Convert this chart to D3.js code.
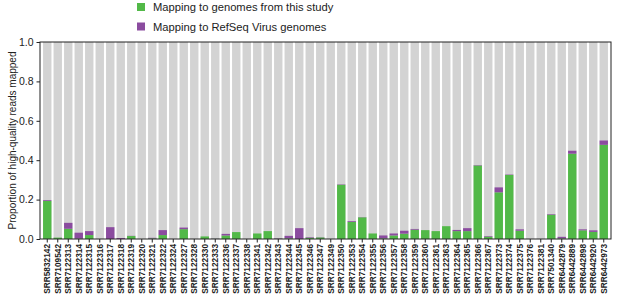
<!DOCTYPE html>
<html><head><meta charset="utf-8">
<script src="https://cdn.jsdelivr.net/npm/d3@7"></script>
<style>body{margin:0;background:#fff;}svg{display:block;font-family:"Liberation Sans",Arial,sans-serif;}</style>
</head><body><div id="chart"></div>
<script>
const categories = ["SRR5832142","SRR7109542","SRR7122313","SRR7122314","SRR7122315","SRR7122316","SRR7122317","SRR7122318","SRR7122319","SRR7122320","SRR7122321","SRR7122322","SRR7122324","SRR7122327","SRR7122328","SRR7122330","SRR7122333","SRR7122336","SRR7122337","SRR7122338","SRR7122341","SRR7122342","SRR7122343","SRR7122344","SRR7122345","SRR7122346","SRR7122347","SRR7122349","SRR7122350","SRR7122353","SRR7122354","SRR7122355","SRR7122356","SRR7122357","SRR7122358","SRR7122359","SRR7122360","SRR7122361","SRR7122363","SRR7122364","SRR7122365","SRR7122366","SRR7122367","SRR7122373","SRR7122374","SRR7122375","SRR7122376","SRR7122381","SRR7501340","SRR6442879","SRR6442889","SRR6442898","SRR6442920","SRR6442973"];
const studyValues = [0.193,0.007,0.052,0.002,0.02,0,0,0,0.015,0,0.003,0.02,0,0.05,0,0.013,0.001,0.018,0.035,0,0.028,0.04,0.001,0.003,0,0.006,0.008,0,0.275,0.087,0.11,0.028,0.003,0.018,0.027,0.047,0.045,0.04,0.065,0.04,0.04,0.373,0.012,0.237,0.325,0.042,0,0,0.123,0.003,0.433,0.044,0.036,0.478];
const refseqValues = [0.004,0,0.03,0.03,0.02,0,0.06,0.005,0.001,0,0.003,0.025,0,0.008,0,0,0.001,0.008,0,0,0,0,0.002,0.013,0.055,0.003,0.001,0,0.002,0.004,0.001,0,0.015,0.01,0.015,0.004,0,0,0,0.006,0.015,0.002,0.003,0.025,0.002,0.007,0,0,0.003,0.008,0.015,0.005,0.008,0.022];
const yTicks = [0,0.2,0.4,0.6,0.8,1.0];
const seriesNames = ["Mapping to genomes from this study","Mapping to RefSeq Virus genomes"];
const colors = {study:"#52b948", refseq:"#8b4c9f", bg:"#d3d3d3"};

const W=617,H=299;
const m={left:40,right:6,top:42,bottom:60};
const svg=d3.select("#chart").append("svg").attr("width",W).attr("height",H);
const x=d3.scaleBand().domain(categories).range([m.left+2,W-m.right-2]).paddingInner(0.2).paddingOuter(0.1);
const y=d3.scaleLinear().domain([0,1]).range([H-m.bottom,m.top]);

const g=svg.append("g");
g.selectAll("rect.bg").data(categories).join("rect").attr("class","bg")
 .attr("x",d=>x(d)).attr("width",x.bandwidth()).attr("y",y(1)).attr("height",y(0)-y(1)).attr("fill",colors.bg);
g.selectAll("rect.st").data(categories).join("rect").attr("class","st")
 .attr("x",d=>x(d)).attr("width",x.bandwidth())
 .attr("y",(d,i)=>y(studyValues[i])).attr("height",(d,i)=>y(0)-y(studyValues[i])).attr("fill",colors.study);
g.selectAll("rect.rs").data(categories).join("rect").attr("class","rs")
 .attr("x",d=>x(d)).attr("width",x.bandwidth())
 .attr("y",(d,i)=>y(studyValues[i]+refseqValues[i])).attr("height",(d,i)=>y(studyValues[i])-y(studyValues[i]+refseqValues[i])).attr("fill",colors.refseq);

// frame
svg.append("rect").attr("x",m.left).attr("y",m.top).attr("width",W-m.right-m.left).attr("height",H-m.bottom-m.top)
 .attr("fill","none").attr("stroke","#222").attr("stroke-width",1);

const ya=svg.append("g").attr("transform",`translate(${m.left},0)`)
 .call(d3.axisLeft(y).tickValues(yTicks).tickFormat(d3.format(".1f")).tickSize(3.5).tickSizeOuter(0));
ya.select(".domain").remove();
ya.selectAll("text").attr("font-size",10.5).attr("fill","#222").attr("font-family","Liberation Sans, Arial, sans-serif");
ya.selectAll("line").attr("stroke","#222");

const xa=svg.append("g").attr("transform",`translate(0,${H-m.bottom})`)
 .call(d3.axisBottom(x).tickSize(3.5).tickSizeOuter(0));
xa.select(".domain").remove();
xa.selectAll("line").attr("stroke","#222");
xa.selectAll("text").attr("font-size",8.3).attr("font-weight","bold").attr("fill","#222")
 .attr("font-family","Liberation Sans, Arial, sans-serif")
 .attr("transform","rotate(-90)").attr("text-anchor","end").attr("dx","-5").attr("dy","0").attr("y",0).attr("x",0)
 .attr("dominant-baseline","central");

svg.append("text").attr("transform",`translate(12,${(m.top+H-m.bottom)/2}) rotate(-90)`)
 .attr("text-anchor","middle").attr("font-size",10).attr("fill","#222").attr("dominant-baseline","central")
 .text("Proportion of high-quality reads mapped");

const leg=svg.append("g");
[colors.study,colors.refseq].forEach((c,i)=>{
  leg.append("rect").attr("x",137).attr("y",3+i*19.5).attr("width",8).attr("height",8).attr("fill",c);
  leg.append("text").attr("x",153).attr("y",7+i*19.5).attr("dominant-baseline","central")
    .attr("font-size",11.2).attr("fill","#222").text(seriesNames[i]);
});
</script></body></html>
